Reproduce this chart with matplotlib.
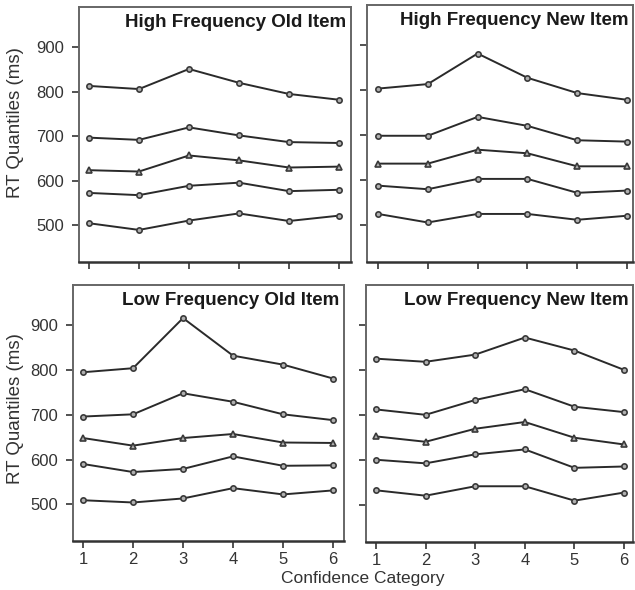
import matplotlib.pyplot as plt

plt.rcParams['font.family'] = ['Liberation Sans', 'DejaVu Sans']

# Confidence categories and RT quantiles (ms), five quantiles per panel (top to bottom)
categories = [1, 2, 3, 4, 5, 6]

hf_old = [[813, 806, 851, 820, 795, 782],
          [697, 692, 720, 702, 687, 685],
          [624, 621, 657, 646, 630, 632],
          [573, 568, 589, 596, 577, 580],
          [505, 490, 511, 527, 510, 522]]

hf_new = [[804, 814, 882, 828, 794, 779],
          [699, 699, 741, 721, 689, 686],
          [637, 637, 668, 660, 631, 631],
          [588, 580, 603, 603, 572, 577],
          [525, 506, 525, 525, 512, 521]]

lf_old = [[795, 804, 916, 832, 812, 781],
          [696, 701, 748, 729, 701, 688],
          [648, 631, 648, 657, 638, 637],
          [590, 572, 579, 607, 586, 587],
          [509, 504, 513, 536, 522, 531]]

lf_new = [[826, 819, 835, 873, 844, 801],
          [713, 701, 734, 758, 719, 707],
          [653, 641, 670, 685, 650, 635],
          [601, 593, 613, 624, 583, 586],
          [533, 521, 542, 542, 510, 528]]

titles = ['High Frequency Old Item', 'High Frequency New Item',
          'Low Frequency Old Item', 'Low Frequency New Item']
yticks = [500, 600, 700, 800, 900]
markers = ['o', 'o', '^', 'o', 'o']

fig = plt.figure(figsize=(6.35, 5.9), dpi=100)

# panel boxes in figure fractions: left, bottom, width, height
boxes = [[0.1244, 0.5559, 0.4283, 0.4322],
         [0.5780, 0.5559, 0.4189, 0.4356],
         [0.1150, 0.0831, 0.4268, 0.4339],
         [0.5764, 0.0814, 0.4205, 0.4356]]
xlims = [(0.8, 6.24), (0.78, 6.12), (0.8, 6.22), (0.8, 6.18)]

for i, (data, title) in enumerate(zip([hf_old, hf_new, lf_old, lf_new], titles)):
    ax = fig.add_axes(boxes[i])
    for series, mk in zip(data, markers):
        ax.plot(categories, series, color='#2a2a2a', lw=1.4, marker=mk,
                markersize=4.8 if mk == '^' else 3.8,
                markerfacecolor='#b0b0b0', markeredgecolor='#3a3a3a',
                markeredgewidth=1.2)

    ax.set_xlim(*xlims[i])
    ax.set_ylim(418, 990)
    ax.set_xticks(categories)
    ax.set_yticks(yticks)
    ax.tick_params(axis='both', direction='out', length=5, width=1.2,
                   color='#333333', labelcolor='#333333')
    ax.tick_params(axis='y', labelsize=12, pad=6)
    ax.tick_params(axis='x', labelsize=12, pad=3)

    if i % 2 == 1:
        ax.set_yticklabels([])
    if i < 2:
        ax.set_xticklabels([])

    for s in ax.spines.values():
        s.set_color('#666666')
        s.set_linewidth(1.4)
    ax.spines['bottom'].set_color('#333333')
    ax.spines['bottom'].set_linewidth(1.8)

    ax.text(0.982, 0.94, title, transform=ax.transAxes, ha='right',
            va='center', fontsize=13.5, fontweight='bold', color='#1a1a1a')

fig.text(0.024, 0.793, 'RT Quantiles (ms)', rotation=90, ha='center',
         va='center', fontsize=13.5, color='#333333')
fig.text(0.024, 0.307, 'RT Quantiles (ms)', rotation=90, ha='center',
         va='center', fontsize=13.5, color='#333333')
fig.text(0.572, 0.0203, 'Confidence Category', ha='center', va='center',
         fontsize=12.5, color='#333333')

fig.savefig('out.png', dpi=100)
